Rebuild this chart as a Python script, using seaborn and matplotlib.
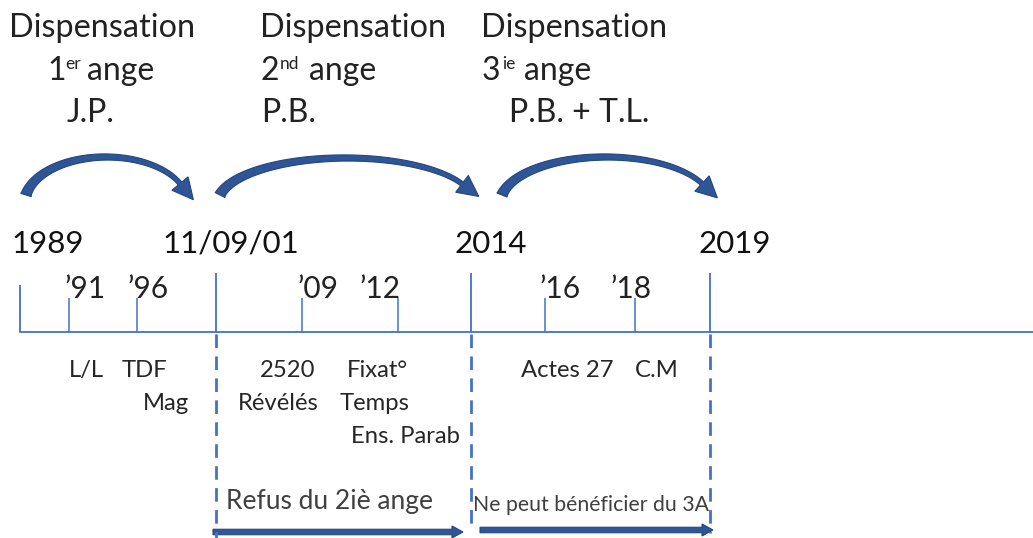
import numpy as np
import pandas as pd
import matplotlib
matplotlib.use("Agg")
import matplotlib.pyplot as plt
from matplotlib.patches import Polygon
import seaborn as sns

# ---------------- data ----------------
dispensation_titles = ["Dispensation", "Dispensation", "Dispensation"]
angel_numbers = ["1", "2", "3"]
angel_suffixes = ["er", "nd", "ie"]
messengers = ["J.P.", "P.B.", "P.B. + T.L."]

major_labels = ["1989", "11/09/01", "2014", "2019"]
minor_labels = ["\u201991", "\u201996", "\u201909", "\u201912", "\u201916", "\u201918"]

event_row1 = ["L/L", "TDF", "2520", "Fixat\u00b0", "Actes 27", "C.M"]
event_row2 = ["Mag", "R\u00e9v\u00e9l\u00e9s", "Temps"]
event_row3 = ["Ens. Parab"]

period_labels = ["Refus du 2i\u00e8 ange", "Ne peut b\u00e9n\u00e9ficier du 3A"]

# ---------------- layout (pixel space) ----------------
W, H = 1033, 538
major_x = [20, 216, 471, 710]
major_tick_top = [285, 273, 273, 273]
major_label_x = [11, 162, 454, 699]
minor_x = [69, 137, 302, 398, 545, 635]
minor_label_x = [64, 127, 297, 359, 539, 610]
line_y = 332
col_x = [9, 260, 481]
num_x = [47, 261, 482]
suf_x = [65, 280, 502]
ange_x = [87, 309, 524]
mess_x = [67, 261, 509]
ev1_x = [69, 122, 260, 347, 521, 635]
ev2_x = [143, 238, 340]
ev3_x = [351]

BLUE = "#4472C4"
DARK = "#2F5597"
EDGE = "#22467F"
TXT = "#222222"

sns.set_theme(style="white")
plt.rcParams["font.family"] = ["Lato", "DejaVu Sans"]

fig = plt.figure(figsize=(W / 100, H / 100), dpi=100)
ax = fig.add_axes([0, 0, 1, 1])
ax.set_xlim(0, W)
ax.set_ylim(H, 0)
ax.axis("off")

# main timeline
tl = pd.DataFrame({"x": [major_x[0], W], "y": [line_y, line_y]})
sns.lineplot(data=tl, x="x", y="y", ax=ax, color=BLUE, lw=1.3)

# ticks
ax.vlines(major_x, major_tick_top, line_y, color=BLUE, lw=1.3)
ax.vlines(minor_x, 298, line_y, color=BLUE, lw=1.1)

# dashed separators
dash_bottoms = [538, 528, 533]
for x, yb in zip(major_x[1:], dash_bottoms):
    ax.plot([x, x], [334, yb], color=BLUE, lw=2.0,
            linestyle=(0, (4.9, 3.0)), solid_capstyle="butt")

# curved arrows
def curved_arrow(x_start, x_end, y_base, y_peak, w0=11.0, w1=4.5,
                 head_len=21.0, head_half=10.5):
    t0, t1 = np.radians(170), np.radians(25)
    b = (y_base - y_peak) / (1 - np.sin(np.radians(10)))
    cy = y_peak + b
    a = (x_end - x_start) / (np.cos(t1) - np.cos(t0))
    cx = x_start - a * np.cos(t0)
    t = np.linspace(t0, t1, 200)
    px = cx + a * np.cos(t)
    py = cy - b * np.sin(t)
    dx = a * np.sin(t)
    dy = b * np.cos(t)
    n = np.hypot(dx, dy)
    dx, dy = dx / n, dy / n
    nx, ny = -dy, dx
    s = np.linspace(0, 1, t.size)
    w = w0 + (w1 - w0) * np.sqrt(s)
    outer = np.column_stack([px - nx * w / 2, py - ny * w / 2])
    inner = np.column_stack([px + nx * w / 2, py + ny * w / 2])
    ex, ey = px[-1], py[-1]
    tx, ty = dx[-1], dy[-1]
    hn = np.array([-ty, tx])
    head = np.array([
        [ex - hn[0] * head_half, ey - hn[1] * head_half],
        [ex + tx * head_len, ey + ty * head_len],
        [ex + hn[0] * head_half, ey + hn[1] * head_half],
    ])
    pts = np.vstack([outer, head, inner[::-1]])
    ax.add_patch(Polygon(pts, closed=True, fc=DARK, ec=EDGE, lw=0.8,
                         joinstyle="miter"))

curved_arrow(26, 180, 195, 157)
curved_arrow(220, 462, 195, 158)
curved_arrow(502, 702, 195, 157)

# straight arrows at bottom
ax.arrow(213, 532, 250, 0, width=5.5, head_width=12, head_length=11,
         length_includes_head=True, fc=DARK, ec=EDGE, lw=0.8)
ax.arrow(480, 530, 233, 0, width=5.5, head_width=12, head_length=11,
         length_includes_head=True, fc=DARK, ec=EDGE, lw=0.8)

# header texts
HD = dict(color=TXT, ha="left", va="baseline")
for i in range(3):
    ax.text(col_x[i], 37, dispensation_titles[i], fontsize=23.3, **HD)
    ax.text(num_x[i], 80, angel_numbers[i], fontsize=23, **HD)
    ax.text(suf_x[i], 69, angel_suffixes[i], fontsize=12.5, **HD)
    ax.text(ange_x[i], 80, "ange", fontsize=23, **HD)
    ax.text(mess_x[i], 122, messengers[i], fontsize=23, **HD)

# year labels
for x, lab in zip(major_label_x, major_labels):
    ax.text(x, 253, lab, fontsize=22.5, color="#111111",
            ha="left", va="baseline")
for x, lab in zip(minor_label_x, minor_labels):
    ax.text(x, 298, lab, fontsize=21.5, color=TXT, ha="left", va="baseline")

# events
EV = dict(fontsize=17.2, color="#262626", ha="left", va="baseline")
for x, lab in zip(ev1_x, event_row1):
    ax.text(x, 377, lab, **EV)
for x, lab in zip(ev2_x, event_row2):
    ax.text(x, 410, lab, **EV)
for x, lab in zip(ev3_x, event_row3):
    ax.text(x, 443, lab, **EV)

# period labels
ax.text(226, 509, period_labels[0], fontsize=19, color="#404040",
        ha="left", va="baseline")
ax.text(473, 511, period_labels[1], fontsize=15.3, color="#404040",
        ha="left", va="baseline")

fig.savefig("out.png", dpi=100)
